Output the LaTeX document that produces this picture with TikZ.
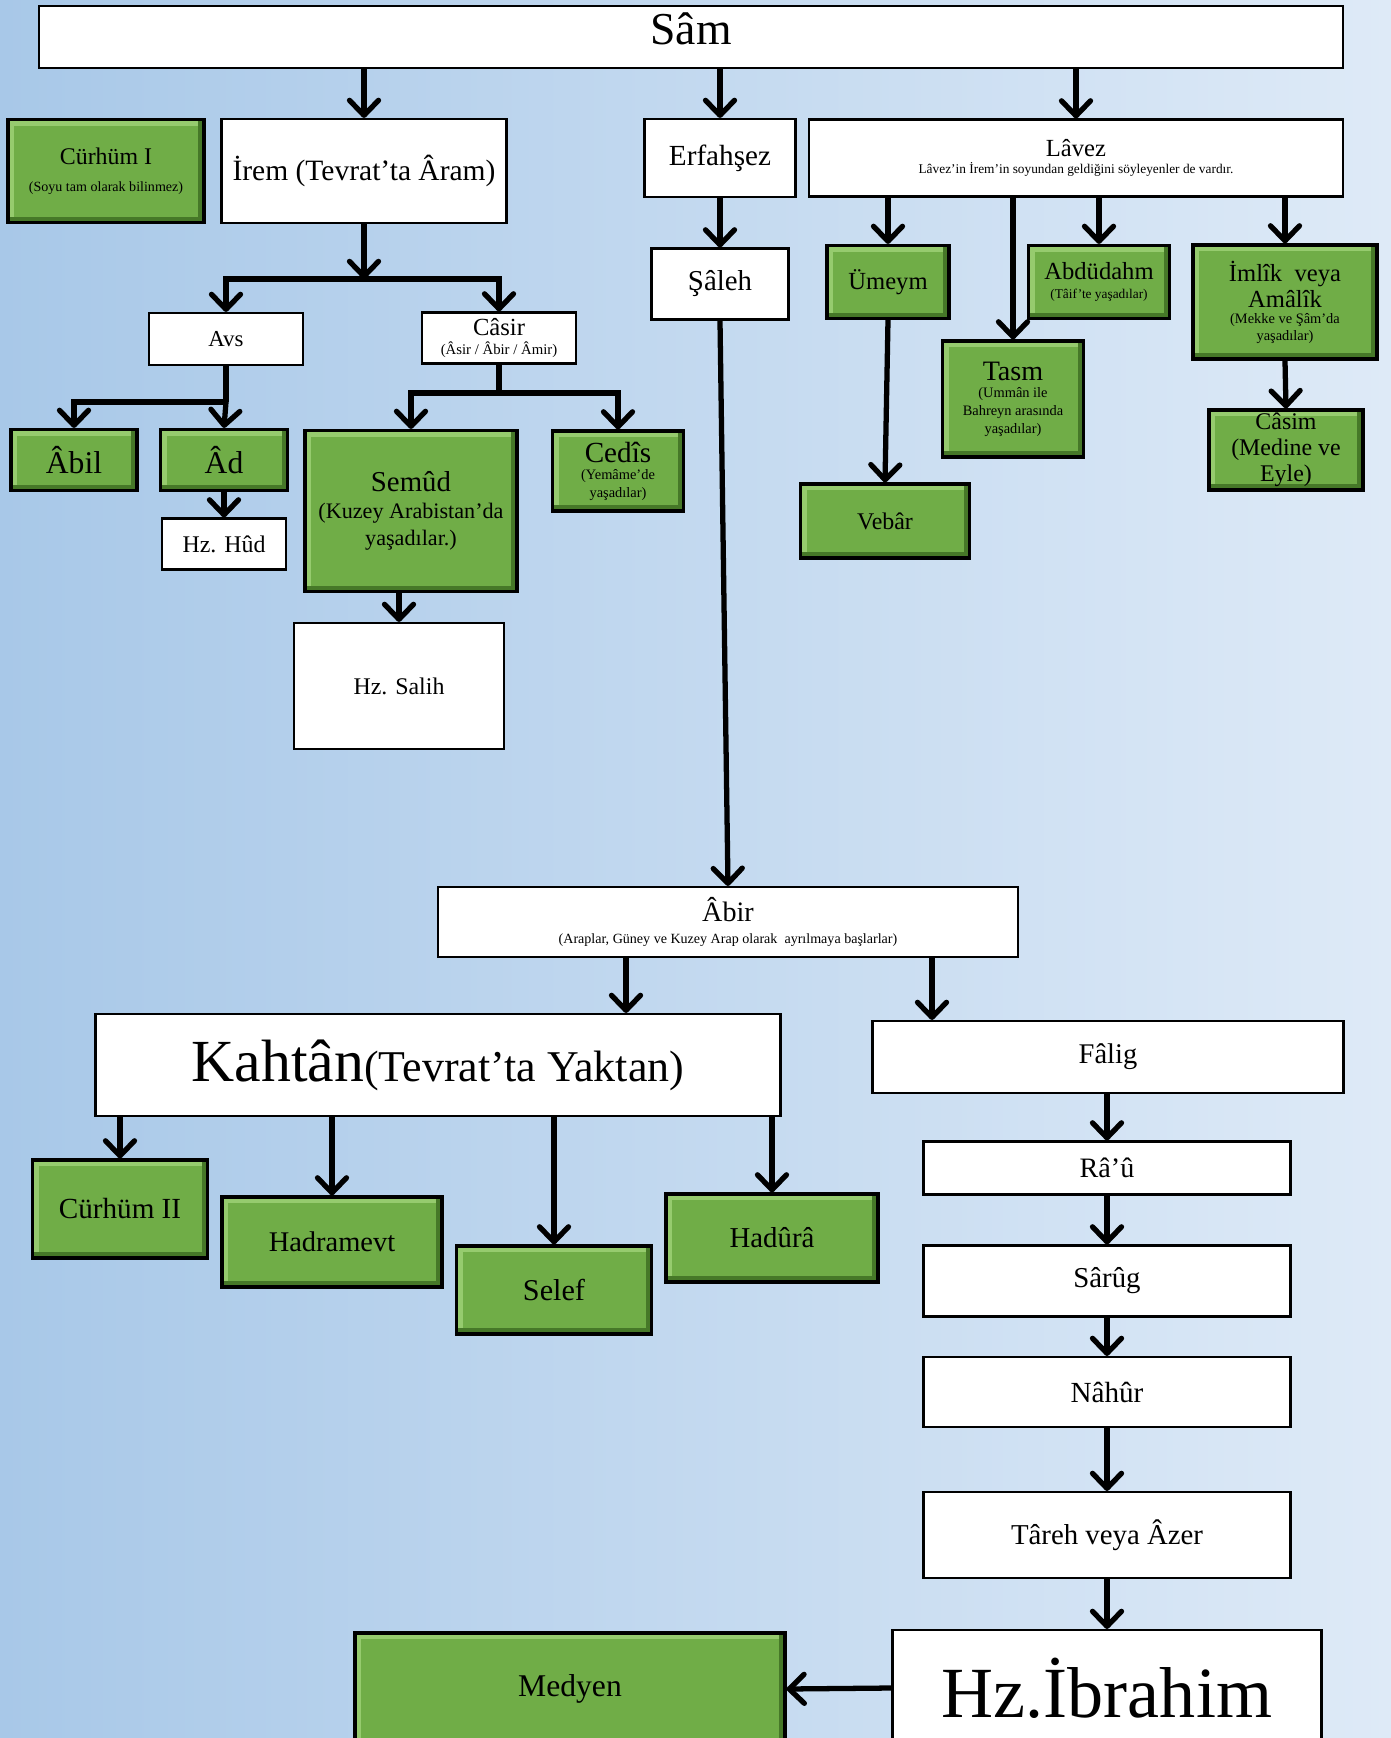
\documentclass[tikz,border=0pt]{standalone}
\usepackage{fontspec}
\setmainfont{Liberation Serif}
\usetikzlibrary{arrows.meta}

\definecolor{grn}{RGB}{112,173,71}
\definecolor{grnlt}{RGB}{150,203,110}
\definecolor{grndk}{RGB}{70,120,40}
\definecolor{bgl}{RGB}{168,200,232}
\definecolor{bgr}{RGB}{222,234,247}

\newcommand{\fz}[2]{\fontsize{#1}{#2}\selectfont}

\begin{document}
\begin{tikzpicture}[x=0.1mm,y=-0.1mm]
            \tikzset{line/.style={line width=1.5pt}};
            \tikzset{arr/.style={line, -{Straight Barb[length=1.5mm,width=2.9mm,round]}}};
            \tikzset{wbox/.style={draw=black, line width=0.6pt, fill=white, inner sep=0pt, align=center}};
            \tikzset{gbox/.style={wbox, fill=grn, line width=0.9pt,
                path picture={
                    \draw[grnlt, line width=1.2mm] (path picture bounding box.north west) rectangle (path picture bounding box.south east);
                    \draw[grndk, line width=1.2mm] (path picture bounding box.south west) -- (path picture bounding box.south east) -- (path picture bounding box.north east);
                }}};

            \useasboundingbox (0,0) rectangle (1391,1738);
            \fill[left color=bgl, right color=bgr] (0,0) rectangle (1391,1738);

            \node[wbox, minimum width=130.4mm, minimum height=6.2mm, text depth=1.6mm] (sam) at (691,37) {\fz{13}{15}Sâm};

            \node[gbox, minimum width=19.6mm, minimum height=10.3mm, font=\fz{4}{7.6}] (curhum1) at (106,171) {\fz{6.8}{8}Cürhüm I\\\fz{4}{5}(Soyu tam olarak bilinmez)};
            \node[wbox, minimum width=28.5mm, minimum height=10.4mm] (irem) at (364,171) {\fz{8.4}{10}İrem (Tevrat’ta Âram)};
            \node[wbox, minimum width=15.1mm, minimum height=7.8mm] (erfahsez) at (720,158) {\fz{8.3}{10}Erfahşez};
            \node[wbox, minimum width=53.4mm, minimum height=7.7mm, font=\fz{3.8}{4.7}] (lavez) at (1076,158) {\fz{7}{8}Lâvez\\\fz{3.8}{4.7}Lâvez’in İrem’in soyundan geldiğini söyleyenler de vardır.};

            \node[wbox, minimum width=13.7mm, minimum height=7.1mm] (saleh) at (720,284) {\fz{8.2}{10}Şâleh};
            \node[gbox, minimum width=12.2mm, minimum height=7.3mm] (umeym) at (888,282) {\fz{7}{8}Ümeym};
            \node[gbox, minimum width=14.1mm, minimum height=7.3mm, font=\fz{3.8}{5.4}] (abdudahm) at (1099,282) {\fz{7}{8}Abdüdahm\\\fz{3.8}{4.6}(Tâif’te yaşadılar)};
            \node[gbox, minimum width=18.4mm, minimum height=11.4mm, font=\fz{4.1}{4.7}] (imlik) at (1285,302) {\fz{7}{8}İmlîk\enspace veya\\\fz{7}{8}Amâlîk\\\fz{4.1}{4.7}(Mekke ve Şâm’da\\\fz{4.1}{4.7}yaşadılar)};
            \node[gbox, minimum width=14.1mm, minimum height=11.6mm, font=\fz{4.1}{5}] (tasm) at (1013,399) {\fz{8}{9}Tasm\\\fz{4.1}{5}(Ummân ile\\\fz{4.1}{5}Bahreyn arasında\\\fz{4.1}{5}yaşadılar)};
            \node[gbox, minimum width=15.4mm, minimum height=8mm, font=\fz{6.8}{7.4}] (casim) at (1286,450) {Câsim\\(Medine ve\\Eyle)};
            \node[gbox, minimum width=16.9mm, minimum height=7.4mm] (vebar) at (885,521) {\fz{6.8}{8}Vebâr};

            \node[wbox, minimum width=15.4mm, minimum height=5.2mm] (avs) at (226,339) {\fz{6.5}{8}Avs};
            \node[wbox, minimum width=15.4mm, minimum height=5.1mm, font=\fz{4.2}{5.4}] (casir) at (499,338) {\fz{7}{8}Câsir\\\fz{4.2}{5}(Âsir / Âbir / Âmir)};
            \node[gbox, minimum width=12.6mm, minimum height=6.1mm] (abil) at (74,460) {\fz{9}{10}Âbil};
            \node[gbox, minimum width=12.7mm, minimum height=6.1mm] (ad) at (224,460) {\fz{9}{10}Âd};
            \node[wbox, minimum width=12.4mm, minimum height=5.1mm] (hud) at (224,544) {\fz{6.8}{8}Hz. Hûd};
            \node[gbox, minimum width=21.2mm, minimum height=16.1mm, font=\fz{6.3}{7.6}] (semud) at (411,511) {\fz{8.2}{9}Semûd\\\fz{6.3}{7.6}(Kuzey Arabistan’da\\\fz{6.3}{7.6}yaşadılar.)};
            \node[gbox, minimum width=13.1mm, minimum height=8mm, font=\fz{4.1}{5}] (cedis) at (618,471) {\fz{8.3}{9}Cedîs\\\fz{4.1}{5}(Yemâme’de\\\fz{4.1}{5}yaşadılar)};
            \node[wbox, minimum width=21mm, minimum height=12.6mm] (salih) at (399,686) {\fz{6.8}{8}Hz. Salih};

            \node[wbox, minimum width=58mm, minimum height=7mm, font=\fz{4}{6.2}] (abir) at (728,922) {\fz{8}{9}Âbir\\\fz{4}{5}(Araplar, Güney ve Kuzey Arap olarak\enspace ayrılmaya başlarlar)};
            \node[wbox, minimum width=68.5mm, minimum height=10.2mm] (kahtan) at (438,1065) {\fz{17}{20}Kahtân{\fz{12.5}{14}(Tevrat’ta Yaktan)}};
            \node[wbox, minimum width=47.1mm, minimum height=7.2mm] (falig) at (1108,1057) {\fz{8.1}{10}Fâlig};
            \node[wbox, minimum width=36.7mm, minimum height=5.3mm] (rau) at (1107,1168) {\fz{8}{10}Râ’û};
            \node[wbox, minimum width=36.7mm, minimum height=7.1mm] (sarug) at (1107,1281) {\fz{8.2}{10}Sârûg};
            \node[wbox, minimum width=36.7mm, minimum height=7mm] (nahur) at (1107,1392) {\fz{8.3}{10}Nâhûr};
            \node[wbox, minimum width=36.7mm, minimum height=8.6mm] (tareh) at (1107,1535) {\fz{8.2}{10}Târeh veya Âzer};
            \node[wbox, minimum width=42.9mm, minimum height=11.6mm] (ibrahim) at (1107,1688) {\fz{20.5}{24}Hz.İbrahim};
            \node[gbox, minimum width=43mm, minimum height=11.2mm] (medyen) at (570,1689) {\fz{9}{10}Medyen};

            \node[gbox, minimum width=17.5mm, minimum height=9.8mm] (curhum2) at (120,1209) {\fz{8.3}{10}Cürhüm II};
            \node[gbox, minimum width=22mm, minimum height=9mm] (hadramevt) at (332,1242) {\fz{8.1}{10}Hadramevt};
            \node[gbox, minimum width=19.5mm, minimum height=8.8mm] (selef) at (554,1290) {\fz{8.6}{10}Selef};
            \node[gbox, minimum width=21.2mm, minimum height=8.8mm] (hadura) at (772,1238) {\fz{8.2}{10}Hadûrâ};

            \draw[arr] (sam.south -| irem) -- (irem.north);
            \draw[arr] (sam.south -| erfahsez) -- (erfahsez.north);
            \draw[arr] (sam.south -| lavez) -- (lavez.north);

            \coordinate (irembar) at (364,279);
            \draw[arr] (irem.south) -- (irembar);
            \draw[arr] (irembar) -| (avs.north);
            \draw[arr] (irembar) -| (casir.north);

            \coordinate (avsbar) at (226,402);
            \draw[line] (avs.south) -- (avsbar);
            \draw[arr] (avsbar) -| (abil.north);
            \draw[arr] (avsbar) -- (ad.north);
            \draw[arr] (ad.south) -- (hud.north);

            \coordinate (casirbar) at (499,393);
            \draw[line] (casir.south) -- (casirbar);
            \draw[arr] (casirbar) -| (semud.north);
            \draw[arr] (casirbar) -| (cedis.north);
            \draw[arr] (semud.south -| salih) -- (salih.north);

            \draw[arr] (erfahsez.south) -- (saleh.north);
            \draw[arr] (saleh.south) -- (abir.north);

            \draw[arr] (lavez.south -| umeym) -- (umeym.north);
            \draw[arr] (lavez.south -| tasm) -- (tasm.north);
            \draw[arr] (lavez.south -| abdudahm) -- (abdudahm.north);
            \draw[arr] (lavez.south -| imlik) -- (imlik.north);
            \draw[arr] (umeym.south) -- (vebar.north);
            \draw[arr] (imlik.south) -- (casim.north);

            \coordinate (kx) at (626,985);
            \coordinate (fx) at (932,985);
            \draw[arr] (abir.south -| kx) -- (kahtan.north -| kx);
            \draw[arr] (abir.south -| fx) -- (falig.north -| fx);

            \draw[arr] (kahtan.south -| curhum2) -- (curhum2.north);
            \draw[arr] (kahtan.south -| hadramevt) -- (hadramevt.north);
            \draw[arr] (kahtan.south -| selef) -- (selef.north);
            \draw[arr] (kahtan.south -| hadura) -- (hadura.north);

            \draw[arr] (falig.south -| rau) -- (rau.north);
            \draw[arr] (rau.south) -- (sarug.north);
            \draw[arr] (sarug.south) -- (nahur.north);
            \draw[arr] (nahur.south) -- (tareh.north);
            \draw[arr] (tareh.south) -- (ibrahim.north);
            \draw[arr] (ibrahim.west) -- (medyen.east);
\end{tikzpicture}
\end{document}
